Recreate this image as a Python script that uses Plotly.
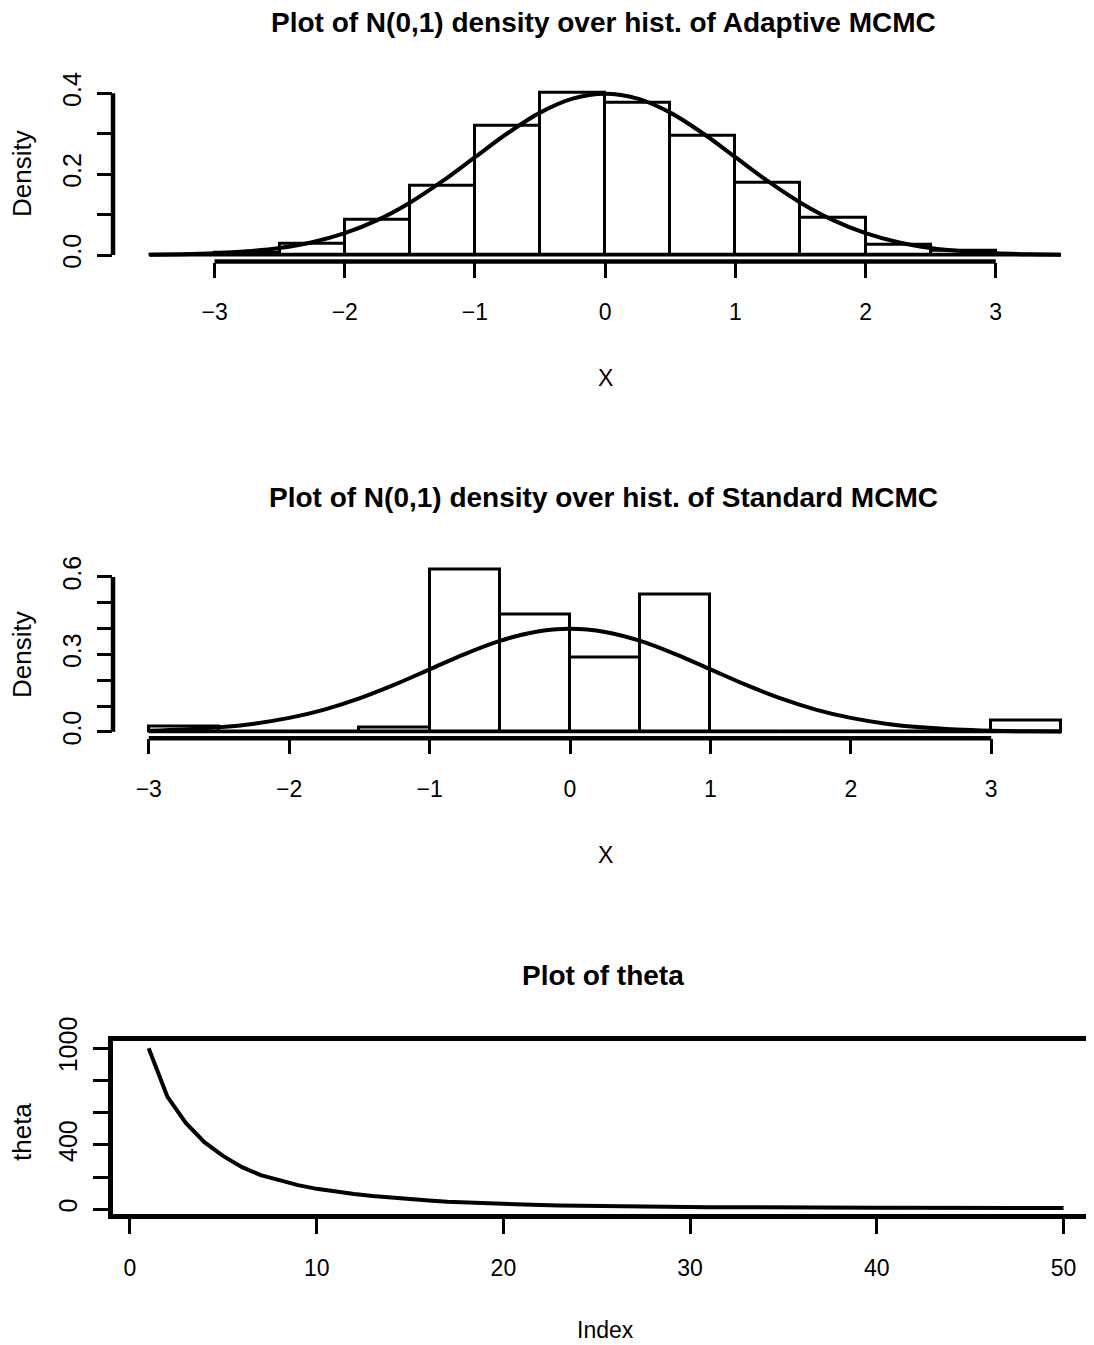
import plotly.graph_objects as go

# ---------------- data ----------------
# Panel 1: histogram of Adaptive MCMC draws (density scale)
adaptive_bin_edges = [-3.5, -3.0, -2.5, -2.0, -1.5, -1.0, -0.5, 0.0, 0.5, 1.0, 1.5, 2.0, 2.5, 3.0, 3.5]
adaptive_density = [0.0, 0.005, 0.027, 0.086, 0.171, 0.319, 0.400, 0.377, 0.296, 0.179, 0.092, 0.025, 0.010, 0.0]

# Panel 2: histogram of Standard MCMC draws (density scale)
standard_bin_edges = [-3.0, -2.5, -2.0, -1.5, -1.0, -0.5, 0.0, 0.5, 1.0, 1.5, 2.0, 2.5, 3.0, 3.5]
standard_density = [0.020, 0.0, 0.0, 0.015, 0.627, 0.456, 0.287, 0.532, 0.0, 0.0, 0.0, 0.0, 0.043]

# N(0,1) density curve
curve_x = [-3.5, -3.25, -3.0, -2.75, -2.5, -2.25, -2.0, -1.75, -1.5, -1.25, -1.0, -0.75, -0.5, -0.25,
           0.0, 0.25, 0.5, 0.75, 1.0, 1.25, 1.5, 1.75, 2.0, 2.25, 2.5, 2.75, 3.0, 3.25, 3.5]
curve_y = [0.0009, 0.0020, 0.0044, 0.0091, 0.0175, 0.0317, 0.0540, 0.0863, 0.1295, 0.1826, 0.2420, 0.3011,
           0.3521, 0.3867, 0.3989, 0.3867, 0.3521, 0.3011, 0.2420, 0.1826, 0.1295, 0.0863, 0.0540, 0.0317,
           0.0175, 0.0091, 0.0044, 0.0020, 0.0009]

# Panel 3: theta trace
theta_index = list(range(1, 51))
theta_values = [1000, 700, 535, 415, 330, 262, 212, 178, 150, 127,
                108, 95, 82, 71, 62, 54, 47, 42, 37, 33,
                29, 26, 24, 22, 20, 18, 17, 16, 15, 14,
                13, 13, 12, 12, 11, 11, 11, 10, 10, 10,
                10, 9, 9, 9, 9, 9, 8, 8, 8, 8]

# tick labels
p1_xticks = [-3, -2, -1, 0, 1, 2, 3]
p1_yticks = [0.0, 0.1, 0.2, 0.3, 0.4]
p1_yticktext = ["0.0", "", "0.2", "", "0.4"]
p2_xticks = [-3, -2, -1, 0, 1, 2, 3]
p2_yticks = [0.0, 0.1, 0.2, 0.3, 0.4, 0.5, 0.6]
p2_yticktext = ["0.0", "", "", "0.3", "", "", "0.6"]
p3_xticks = [0, 10, 20, 30, 40, 50]
p3_yticks = [0, 200, 400, 600, 800, 1000]
p3_yticktext = ["0", "", "400", "", "", "1000"]

titles = ["Plot of N(0,1) density over hist. of Adaptive MCMC",
          "Plot of N(0,1) density over hist. of Standard MCMC",
          "Plot of theta"]

# ---------------- figure ----------------
W, H = 1094, 1345
OFF = 8  # page body margin
FONT = "Liberation Sans, Arial, Helvetica, sans-serif"
AXW = 4.5

def centers(edges):
    return [(a + b) / 2 for a, b in zip(edges[:-1], edges[1:])]

def widths(edges):
    return [b - a for a, b in zip(edges[:-1], edges[1:])]

fig = go.Figure()

# Panel 1
fig.add_trace(go.Bar(x=centers(adaptive_bin_edges), y=adaptive_density, width=widths(adaptive_bin_edges),
                     marker=dict(color="white", line=dict(color="black", width=3)),
                     xaxis="x", yaxis="y"))
fig.add_trace(go.Scatter(x=[adaptive_bin_edges[0], adaptive_bin_edges[-1]], y=[0, 0], mode="lines",
                         line=dict(color="black", width=3), xaxis="x", yaxis="y"))
fig.add_trace(go.Scatter(x=curve_x, y=curve_y, mode="lines", line=dict(color="black", width=4, shape="spline"),
                         xaxis="x", yaxis="y"))

# Panel 2
std_cx = [x for x in curve_x if x >= standard_bin_edges[0]]
std_cy = [y for x, y in zip(curve_x, curve_y) if x >= standard_bin_edges[0]]
fig.add_trace(go.Bar(x=centers(standard_bin_edges), y=standard_density, width=widths(standard_bin_edges),
                     marker=dict(color="white", line=dict(color="black", width=3)),
                     xaxis="x2", yaxis="y2"))
fig.add_trace(go.Scatter(x=[standard_bin_edges[0], standard_bin_edges[-1]], y=[0, 0], mode="lines",
                         line=dict(color="black", width=3), xaxis="x2", yaxis="y2"))
fig.add_trace(go.Scatter(x=std_cx, y=std_cy, mode="lines", line=dict(color="black", width=4, shape="spline"),
                         xaxis="x2", yaxis="y2"))

# Panel 3
fig.add_trace(go.Scatter(x=theta_index, y=theta_values, mode="lines", line=dict(color="black", width=4),
                         xaxis="x3", yaxis="y3"))

def py(p):  # screen pixel row -> paper y
    return 1 - (p - OFF) / H

def px(p):  # screen pixel column -> paper x
    return (p - OFF) / W

tickfont_x = dict(family=FONT, size=23, color="black")
tickfont_y = dict(family=FONT, size=25, color="black")
common_x = dict(ticks="outside", ticklen=15, tickwidth=3, tickcolor="black", showgrid=False,
                zeroline=False, tickfont=tickfont_x, ticklabelstandoff=15, fixedrange=True)
common_y = dict(ticks="outside", ticklen=15, tickwidth=3, tickcolor="black", showgrid=False,
                zeroline=False, tickfont=tickfont_y, tickangle=-90, ticklabelstandoff=6, fixedrange=True)

xdom = [px(113), 1.0]
fig.update_layout(
    width=W, height=H, margin=dict(l=0, r=0, t=0, b=0, autoexpand=False),
    paper_bgcolor="white", plot_bgcolor="white", showlegend=False, bargap=0,
    xaxis=dict(domain=xdom, range=[-3.78, 3.816], tickvals=p1_xticks, showline=False, anchor="y", **common_x),
    yaxis=dict(domain=[py(261.5), py(86.8)], range=[-0.016, 0.416], tickvals=p1_yticks, ticktext=p1_yticktext,
               showline=False, anchor="x", **common_y),
    xaxis2=dict(domain=xdom, range=[-3.255, 3.789], tickvals=p2_xticks, showline=False, anchor="y2", **common_x),
    yaxis2=dict(domain=[py(738.3), py(563.5)], range=[-0.025, 0.652], tickvals=p2_yticks, ticktext=p2_yticktext,
                showline=False, anchor="x2", **common_y),
    xaxis3=dict(domain=xdom, range=[-0.91, 52.06], tickvals=p3_xticks, showline=True, mirror=True,
                linecolor="black", linewidth=AXW, anchor="y3", **common_x),
    yaxis3=dict(domain=[py(1214), py(1040.7)], range=[-29.2, 1047], tickvals=p3_yticks, ticktext=p3_yticktext,
                showline=True, mirror=False, linecolor="black", linewidth=AXW, anchor="x3", **common_y),
)

# R-style axis lines spanning first..last tick
shapes = [
    dict(type="line", xref="x", yref="y domain", x0=min(p1_xticks), x1=max(p1_xticks), y0=0, y1=0,
         line=dict(color="black", width=AXW)),
    dict(type="line", xref="x domain", yref="y", x0=0, x1=0, y0=min(p1_yticks), y1=max(p1_yticks),
         line=dict(color="black", width=AXW)),
    dict(type="line", xref="x2", yref="y2 domain", x0=min(p2_xticks), x1=max(p2_xticks), y0=0, y1=0,
         line=dict(color="black", width=AXW)),
    dict(type="line", xref="x2 domain", yref="y2", x0=0, x1=0, y0=min(p2_yticks), y1=max(p2_yticks),
         line=dict(color="black", width=AXW)),
]
fig.update_layout(shapes=shapes)

ann = []
for t, yy in zip(titles, [22, 497, 975]):
    ann.append(dict(text="<b>" + t + "</b>", x=px(603), y=py(yy), xref="paper", yref="paper",
                    showarrow=False, xanchor="center", yanchor="middle",
                    font=dict(family=FONT, size=28, color="black")))
for t, yy in zip(["X", "X", "Index"], [378, 855, 1330]):
    ann.append(dict(text=t, x=px(605), y=py(yy), xref="paper", yref="paper", showarrow=False,
                    xanchor="center", yanchor="middle", font=dict(family=FONT, size=23, color="black")))
for t, yy in zip(["Density", "Density", "theta"], [174, 655, 1132]):
    ann.append(dict(text=t, x=px(22), y=py(yy), xref="paper", yref="paper", showarrow=False,
                    xanchor="center", yanchor="middle", textangle=-90,
                    font=dict(family=FONT, size=26, color="black")))
fig.update_layout(annotations=ann)

fig.write_html("out.html")
